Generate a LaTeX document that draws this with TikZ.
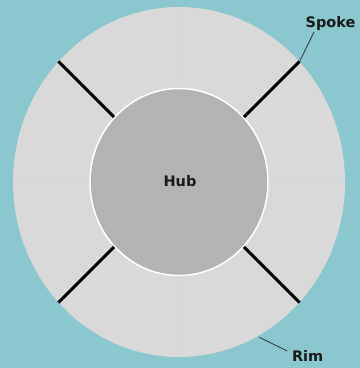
\documentclass[tikz,border=0pt]{standalone}
\usepackage{fontspec}
\setsansfont{DejaVu Sans}
\usetikzlibrary{shapes.geometric}
\definecolor{bgteal}{HTML}{8AC7CE}
\definecolor{rimgray}{HTML}{D9D9D9}
\definecolor{hubgray}{HTML}{B3B3B3}
\definecolor{gridc}{HTML}{CFDADB}
\definecolor{leaderc}{HTML}{333333}
\tikzset{
  lbl/.style={font=\sffamily\bfseries\fontsize{14.5bp}{17bp}\selectfont, text=black!90, inner sep=0pt},
  spokeline/.style={draw=black, line width=3bp},
  gridline/.style={draw=gridc, line width=0.9bp},
  leader/.style={draw=leaderc, line width=0.8bp},
  wheel/.style={ellipse, inner sep=0pt}
}
\begin{document}
\begin{tikzpicture}[x=1bp,y=-1bp]
\useasboundingbox (0,0) rectangle (360,368);
\fill[bgteal] (0,0) rectangle (360,368);
\node[wheel, fill=rimgray, minimum width=332bp, minimum height=350bp] (rim) at (179,182) {};
\draw[gridline] (rim.west) -- (rim.east);
\draw[gridline] (rim.north) -- (rim.south);
\node[wheel, fill=hubgray, draw=white, line width=1.5bp, minimum width=178bp, minimum height=187bp] (hub) at (179,182) {};
\foreach \a in {45,135,225,315} {
  \draw[spokeline] (hub.\a) -- (rim.\a);
}
\node[lbl, anchor=base] (hubtext) at (180,186.5) {Hub};
\node[lbl, anchor=base] (spoketext) at (330.5,27.5) {Spoke};
\node[lbl, anchor=base] (rimtext) at (307.7,361.5) {Rim};
\coordinate (spoketip) at (314,32);
\coordinate (rimtip) at (287.3,351);
\coordinate (rimpt) at (259.3,337.3);
\draw[leader] (rim.45) -- (spoketip);
\draw[leader] (rimpt) -- (rimtip);
\end{tikzpicture}
\end{document}
